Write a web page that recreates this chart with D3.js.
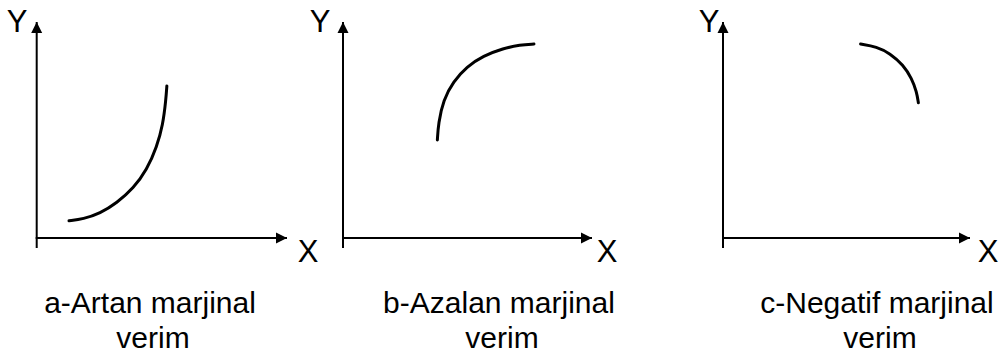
<!DOCTYPE html>
<html>
<head>
<meta charset="utf-8">
<script src="https://cdn.jsdelivr.net/npm/d3@7/dist/d3.min.js"></script>
<style>
  html, body { margin: 0; padding: 0; background: #fff; }
  svg { display: block; }
  text { font-family: "Liberation Sans", Arial, sans-serif; fill: #000; }
</style>
</head>
<body>
<svg id="chart" width="1001" height="364"></svg>
<script>
// Panel captions (two lines each)
const captions = [
  ["a-Artan marjinal", "verim"],
  ["b-Azalan marjinal", "verim"],
  ["c-Negatif marjinal", "verim"]
];

// Curve points in data units (x, y on a 0–10 scale)
const increasingX = [1.29, 1.86, 2.53, 3.20, 3.87, 4.40, 4.80, 5.04, 5.16, 5.20];
const increasingY = [0.80, 0.88, 1.14, 1.62, 2.31, 3.15, 4.23, 5.23, 6.39, 7.04];

const diminishingX = [3.79, 3.83, 4.03, 4.43, 4.97, 5.63, 6.44, 7.11, 7.67];
const diminishingY = [4.54, 5.31, 6.39, 7.24, 7.93, 8.43, 8.78, 8.94, 8.98];

const negativeX = [5.57, 6.22, 6.76, 7.30, 7.64, 7.84, 7.91];
const negativeY = [8.98, 8.86, 8.55, 8.01, 7.39, 6.77, 6.26];

const axisDomain = [0, 10];

// Layout of each panel: origin of axes and extent of arrows
const panels = [
  { ox: 36.7, oy: 238, xEnd: 287, yEnd: 22, yLabelX: 17, xLabelX: 308, capX: 150,
    xs: increasingX, ys: increasingY },
  { ox: 343, oy: 238, xEnd: 592, yEnd: 22, yLabelX: 320, xLabelX: 607, capX: 499,
    xs: diminishingX, ys: diminishingY },
  { ox: 723, oy: 238, xEnd: 970, yEnd: 22, yLabelX: 709, xLabelX: 988, capX: 877,
    xs: negativeX, ys: negativeY }
];

const svg = d3.select("#chart");

const defs = svg.append("defs");
defs.append("marker")
  .attr("id", "arrow")
  .attr("viewBox", "0 0 10 10")
  .attr("refX", 10).attr("refY", 5)
  .attr("markerUnits", "userSpaceOnUse")
  .attr("markerWidth", 11).attr("markerHeight", 12)
  .attr("orient", "auto")
  .append("path")
  .attr("d", "M0,0 L10,5 L0,10 Z")
  .attr("fill", "#000");

panels.forEach((p, i) => {
  const x = d3.scaleLinear().domain(axisDomain).range([p.ox, p.xEnd]);
  const y = d3.scaleLinear().domain(axisDomain).range([p.oy, p.yEnd]);
  const g = svg.append("g");

  // Axes with arrowheads
  g.append("line")
    .attr("x1", x(0)).attr("y1", y(0) + 10)
    .attr("x2", x(0)).attr("y2", y(10))
    .attr("stroke", "#000").attr("stroke-width", 2)
    .attr("marker-end", "url(#arrow)");
  g.append("line")
    .attr("x1", x(0) - 1).attr("y1", y(0))
    .attr("x2", x(10)).attr("y2", y(0))
    .attr("stroke", "#000").attr("stroke-width", 2)
    .attr("marker-end", "url(#arrow)");

  // Axis letters
  g.append("text")
    .attr("x", p.yLabelX).attr("y", 32)
    .attr("text-anchor", "middle")
    .attr("font-size", 31)
    .text("Y");
  g.append("text")
    .attr("x", p.xLabelX).attr("y", 262)
    .attr("text-anchor", "middle")
    .attr("font-size", 31)
    .text("X");

  // Production curve
  const pts = p.xs.map((v, k) => [v, p.ys[k]]);
  const line = d3.line()
    .x(d => x(d[0]))
    .y(d => y(d[1]))
    .curve(d3.curveBasis);
  g.append("path")
    .attr("d", line(pts))
    .attr("fill", "none")
    .attr("stroke", "#000")
    .attr("stroke-width", 3)
    .attr("stroke-linecap", "round");

  // Caption
  const cap = g.append("text")
    .attr("text-anchor", "middle")
    .attr("font-size", 30);
  cap.append("tspan").attr("x", p.capX).attr("y", 313).text(captions[i][0]);
  cap.append("tspan").attr("x", p.capX + 3).attr("y", 348).text(captions[i][1]);
});
</script>
</body>
</html>
